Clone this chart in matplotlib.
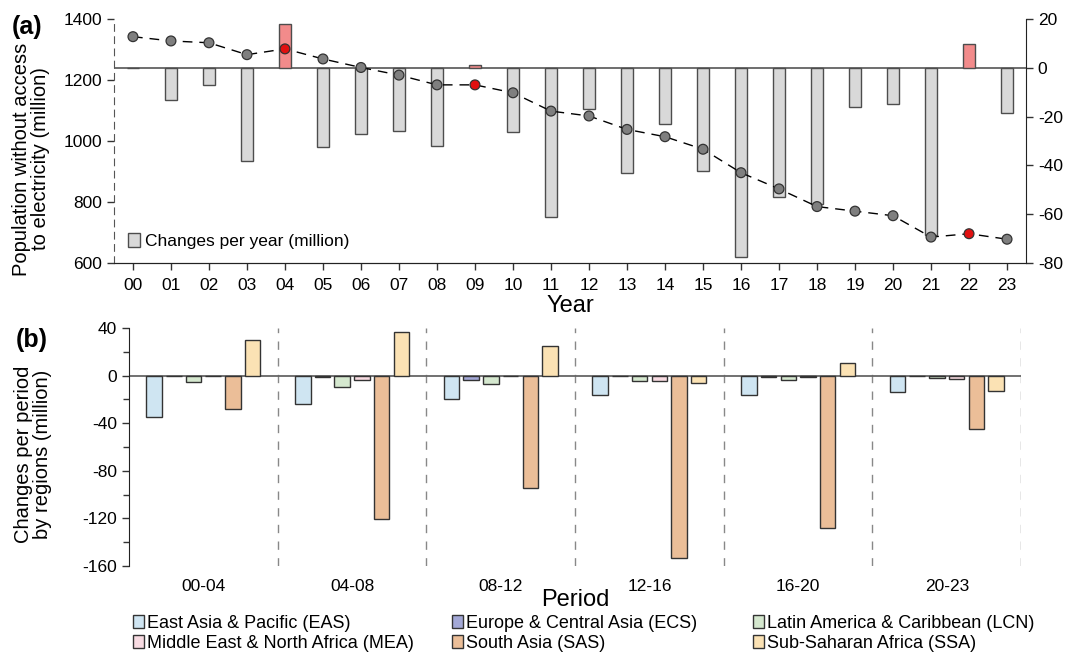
import matplotlib
matplotlib.use("Agg")
import matplotlib.pyplot as plt
from matplotlib.patches import Patch
import numpy as np

plt.rcParams['font.family'] = ['Liberation Sans', 'DejaVu Sans']
plt.rcParams['axes.unicode_minus'] = False

# ---------------- data ----------------
years = ["00", "01", "02", "03", "04", "05", "06", "07", "08", "09", "10", "11",
         "12", "13", "14", "15", "16", "17", "18", "19", "20", "21", "22", "23"]
population = [1342, 1328, 1322, 1283, 1302, 1269, 1241, 1216, 1184, 1184, 1158, 1098,
              1082, 1038, 1014, 973, 896, 843, 785, 770, 755, 685, 696, 678]
changes = [0, -13, -7, -38, 18, -32.5, -27, -26, -32, 1.1, -26.3, -61,
           -17, -43, -23, -42.5, -77.5, -53, -56, -16, -15, -68.5, 9.8, -18.6]
red_years = ["04", "09", "22"]

periods = ["00-04", "04-08", "08-12", "12-16", "16-20", "20-23"]
regions = ["East Asia & Pacific (EAS)", "Europe & Central Asia (ECS)",
           "Latin America & Caribbean (LCN)", "Middle East & North Africa (MEA)",
           "South Asia (SAS)", "Sub-Saharan Africa (SSA)"]
EAS = [-34.5, -23.5, -19.3, -16.5, -16.5, -13.7]
ECS = [-0.6, -0.8, -3.6, -0.4, -1.4, -0.5]
LCN = [-5.6, -9.8, -7.0, -4.8, -3.6, -2.0]
MEA = [-0.5, -3.6, -0.5, -4.8, -1.1, -3.0]
SAS = [-28.3, -120.8, -94.5, -153.0, -128.4, -44.9]
SSA = [30.0, 36.5, 25.0, -6.1, 10.4, -12.9]
region_values = [EAS, ECS, LCN, MEA, SAS, SSA]
region_colors = ["#cfe5f2", "#a3a8d6", "#d5e8cf", "#f8dbe2", "#ebbe98", "#fbe2b4"]

# ---------------- figure ----------------
W, H = 1067, 659
fig = plt.figure(figsize=(10.67, 6.59), dpi=100)

# ---- panel (a)
ax = fig.add_axes([0.1068, 0.6009, 0.8548, 0.3703])
ax2 = ax.twinx()
x = np.arange(len(years))

bar_colors = ["#f28b8b" if v > 0 else "#d9d9d9" for v in changes]
ax2.bar(x, changes, width=0.33, color=bar_colors, edgecolor="#4d4d4d", linewidth=1.0, zorder=2)
ax2.axhline(0, color="#555555", lw=1.2, zorder=1)
ax2.set_ylim(-80, 20)
ax2.set_yticks(np.arange(-80, 21, 20))

ax.set_zorder(ax2.get_zorder() + 1)
ax.patch.set_visible(False)
ax.plot(x, population, color="black", lw=1.0, dashes=(7, 5), zorder=3)
dot_colors = ["#e01010" if y in red_years else "#7f7f7f" for y in years]
ax.scatter(x, population, s=50, c=dot_colors, edgecolors="#333333", linewidths=0.9, zorder=4)
ax.set_ylim(600, 1400)
ax.set_yticks(np.arange(600, 1401, 200))
ax.set_xlim(-0.5, 23.5)
ax.set_xticks(x)
ax.set_xticklabels(years)

for a in (ax, ax2):
    a.spines["top"].set_visible(False)
    a.tick_params(labelsize=12.5, direction="out", length=5, width=1, color="#333333")
ax.spines["left"].set_linestyle((0, (6, 5)))
ax.spines["left"].set_color("#555555")
ax2.spines["left"].set_visible(False)
ax.spines["right"].set_visible(False)
ax2.spines["right"].set_color("#222222")
ax2.spines["bottom"].set_color("#222222")
ax.spines["bottom"].set_color("#222222")
ax.tick_params(axis="x", pad=6)
fig.text(31 / W, 1 - 159 / H, "Population without access\nto electricity (million)",
         fontsize=14.5, rotation=90, ha="center", va="center", linespacing=1.0)
ax.set_xlabel("Year", fontsize=17, labelpad=1)
ax.legend(handles=[Patch(facecolor="#d9d9d9", edgecolor="#4d4d4d", label="Changes per year (million)")],
          loc="lower left", frameon=False, fontsize=12.5, handlelength=0.7, handleheight=0.8,
          handletextpad=0.3, bbox_to_anchor=(0.0, 0.0), borderaxespad=0.4)
fig.text(12 / W, 1 - 27 / H, "(a)", fontsize=18, fontweight="bold", va="center")

# ---- panel (b)
bx = fig.add_axes([0.1209, 0.1411, 0.8361, 0.3612])
n = len(regions)
step = 0.1325
width = 0.104
px = np.arange(len(periods))
for i, (vals, col) in enumerate(zip(region_values, region_colors)):
    bx.bar(px + (i - (n - 1) / 2) * step, vals, width=width, color=col,
           edgecolor="#333333", linewidth=1.0, zorder=2, label=regions[i])
bx.axhline(0, color="#666666", lw=1.3, zorder=1)
for b in np.arange(0.5, len(periods), 1.0):
    bx.axvline(b, color="#888888", lw=1.0, dashes=(6, 6), zorder=0)
bx.set_xlim(-0.5, len(periods) - 0.5)
bx.set_ylim(-160, 40)
bx.set_yticks(np.arange(-160, 41, 40))
bx.set_yticks(np.arange(-160, 41, 20), minor=True)
bx.set_xticks(px)
bx.set_xticklabels(periods)
for s in ("top", "right", "bottom"):
    bx.spines[s].set_visible(False)
bx.spines["left"].set_color("#222222")
bx.tick_params(axis="y", labelsize=12.5, direction="out", length=5, width=1, color="#333333")
bx.tick_params(axis="y", which="minor", length=4, width=1, color="#333333")
bx.tick_params(axis="x", labelsize=12.5, length=0, pad=9)
fig.text(33 / W, 1 - 454 / H, "Changes per period\nby regions (million)",
         fontsize=14.5, rotation=90, ha="center", va="center", linespacing=1.0)
bx.set_xlabel("Period", fontsize=17, labelpad=-3)
fig.text(16 / W, 1 - 340 / H, "(b)", fontsize=18, fontweight="bold", va="center")

# legend: three columns, each placed at its own position
col_x = [0.1247, 0.4236, 0.7057]
for c in range(3):
    hs = []
    for r in range(2):
        i = r * 3 + c
        hs.append(Patch(facecolor=region_colors[i], edgecolor="#333333", label=regions[i]))
    fig.legend(handles=hs, loc="upper left", bbox_to_anchor=(col_x[c], 0.067),
               frameon=False, fontsize=13, handlelength=0.6, handleheight=0.7,
               handletextpad=0.2, labelspacing=0.15, borderaxespad=0, borderpad=0)

fig.savefig("out.png", dpi=100)
